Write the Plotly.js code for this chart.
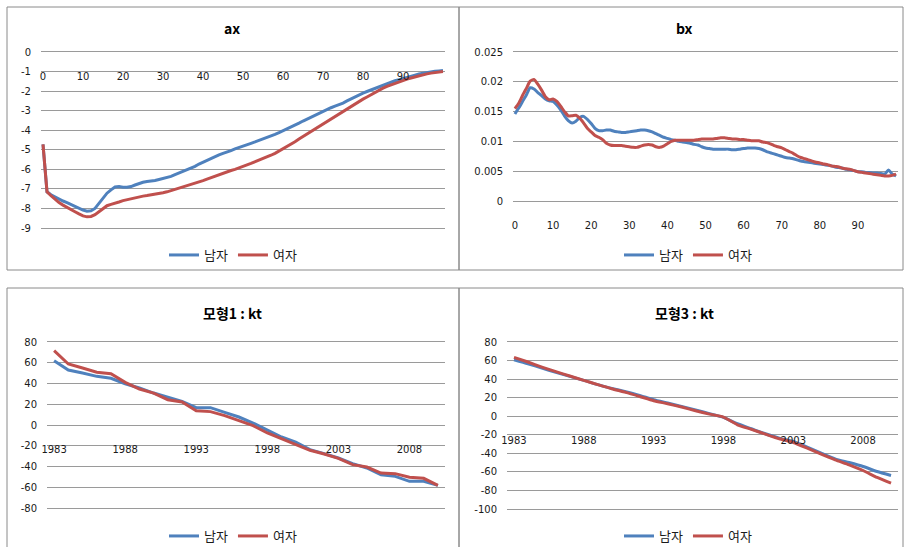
<!DOCTYPE html>
<html><head><meta charset="utf-8">
<script src="https://cdn.plot.ly/plotly-3.0.1.min.js"></script>
<style>html,body{margin:0;padding:0;background:#fff}#chart{width:905px;height:547px}</style>
</head><body><div id="chart"></div>
<script>
// ---------- DATA ----------
const seriesNames = ['남자', '여자'];
const titles = ['ax', 'bx', '모형1 : kt', '모형3 : kt'];

const ages = [0,1,2,3,4,5,6,7,8,9,10,11,12,13,14,15,16,17,18,19,20,21,22,23,24,25,26,27,28,29,30,31,32,33,34,35,36,37,38,39,40,41,42,43,44,45,46,47,48,49,50,51,52,53,54,55,56,57,58,59,60,61,62,63,64,65,66,67,68,69,70,71,72,73,74,75,76,77,78,79,80,81,82,83,84,85,86,87,88,89,90,91,92,93,94,95,96,97,98,99,100];
const ageTicks = [0,10,20,30,40,50,60,70,80,90];

const axMale = [-4.72,-7.15,-7.30,-7.42,-7.53,-7.62,-7.70,-7.80,-7.91,-8.00,-8.08,-8.14,-8.12,-8.00,-7.75,-7.45,-7.22,-7.05,-6.90,-6.88,-6.92,-6.92,-6.88,-6.80,-6.72,-6.66,-6.62,-6.60,-6.57,-6.52,-6.47,-6.42,-6.36,-6.27,-6.19,-6.11,-6.03,-5.95,-5.85,-5.73,-5.63,-5.53,-5.44,-5.35,-5.26,-5.18,-5.12,-5.04,-4.95,-4.87,-4.80,-4.74,-4.67,-4.60,-4.53,-4.45,-4.38,-4.30,-4.21,-4.12,-4.03,-3.95,-3.85,-3.75,-3.64,-3.53,-3.43,-3.33,-3.22,-3.11,-3.01,-2.93,-2.85,-2.77,-2.70,-2.61,-2.50,-2.39,-2.29,-2.19,-2.10,-2.02,-1.94,-1.86,-1.77,-1.68,-1.61,-1.54,-1.47,-1.42,-1.37,-1.31,-1.25,-1.18,-1.12,-1.08,-1.04,-1.01,-0.99,-0.97,-0.95];
const axFemale = [-4.72,-7.15,-7.35,-7.54,-7.70,-7.83,-7.93,-8.03,-8.17,-8.28,-8.38,-8.43,-8.41,-8.32,-8.17,-8.00,-7.86,-7.79,-7.74,-7.67,-7.60,-7.55,-7.49,-7.44,-7.40,-7.37,-7.34,-7.31,-7.28,-7.24,-7.20,-7.15,-7.09,-7.03,-6.97,-6.90,-6.84,-6.78,-6.72,-6.65,-6.58,-6.50,-6.42,-6.34,-6.27,-6.20,-6.13,-6.06,-6.00,-5.91,-5.83,-5.77,-5.70,-5.62,-5.55,-5.47,-5.38,-5.28,-5.18,-5.07,-4.96,-4.84,-4.72,-4.59,-4.45,-4.32,-4.19,-4.06,-3.94,-3.81,-3.69,-3.56,-3.43,-3.30,-3.17,-3.04,-2.91,-2.78,-2.65,-2.53,-2.41,-2.30,-2.18,-2.06,-1.95,-1.85,-1.76,-1.68,-1.59,-1.52,-1.45,-1.39,-1.33,-1.27,-1.21,-1.16,-1.12,-1.08,-1.05,-1.03,-1.00];

const bxMale = [0.0146,0.0156,0.0167,0.0178,0.0190,0.0188,0.0182,0.0177,0.0171,0.0168,0.0167,0.0161,0.0153,0.0143,0.0135,0.0131,0.0134,0.0140,0.0142,0.0137,0.0130,0.0122,0.0118,0.0118,0.0119,0.0119,0.0117,0.0116,0.0115,0.0115,0.0116,0.0117,0.0118,0.0119,0.0119,0.0118,0.0116,0.0113,0.0110,0.0107,0.0105,0.0103,0.0102,0.0100,0.0099,0.0098,0.0097,0.0095,0.0094,0.0091,0.0089,0.0088,0.0087,0.0087,0.0087,0.0087,0.0087,0.0086,0.0086,0.0087,0.0088,0.0089,0.0089,0.0089,0.0088,0.0086,0.0083,0.0081,0.0079,0.0077,0.0075,0.0073,0.0072,0.0071,0.0069,0.0067,0.0066,0.0065,0.0064,0.0063,0.0062,0.0061,0.0060,0.0059,0.0057,0.0056,0.0055,0.0053,0.0052,0.0051,0.0049,0.0049,0.0048,0.0048,0.0047,0.0047,0.0046,0.0045,0.0052,0.0045,0.0042];
const bxFemale = [0.0155,0.0164,0.0177,0.0189,0.0201,0.0204,0.0196,0.0186,0.0175,0.0170,0.0171,0.0167,0.0159,0.0150,0.0143,0.0143,0.0144,0.0139,0.0131,0.0122,0.0116,0.0110,0.0107,0.0103,0.0097,0.0094,0.0093,0.0093,0.0093,0.0092,0.0091,0.0090,0.0090,0.0092,0.0094,0.0095,0.0094,0.0091,0.0090,0.0092,0.0096,0.0100,0.0102,0.0102,0.0102,0.0102,0.0102,0.0102,0.0103,0.0104,0.0104,0.0104,0.0104,0.0105,0.0106,0.0106,0.0105,0.0104,0.0104,0.0103,0.0103,0.0102,0.0101,0.0101,0.0101,0.0099,0.0098,0.0096,0.0093,0.0091,0.0089,0.0086,0.0083,0.0080,0.0076,0.0073,0.0071,0.0069,0.0067,0.0065,0.0064,0.0062,0.0061,0.0059,0.0058,0.0057,0.0055,0.0054,0.0053,0.0051,0.0049,0.0048,0.0047,0.0046,0.0045,0.0044,0.0043,0.0042,0.0042,0.0043,0.0045];

const years = [1983,1984,1985,1986,1987,1988,1989,1990,1991,1992,1993,1994,1995,1996,1997,1998,1999,2000,2001,2002,2003,2004,2005,2006,2007,2008,2009,2010];
const yearTicks = [1983,1988,1993,1998,2003,2008];

const kt1Male = [62.0,53.0,50.1,46.9,45.0,39.8,35.7,30.8,26.7,22.8,16.7,16.7,12.2,7.7,1.9,-4.5,-11.6,-16.4,-23.8,-27.6,-31.8,-37.3,-41.4,-47.9,-49.5,-54.3,-54.3,-58.2];
const kt1Female = [71.6,58.8,54.9,50.8,49.5,41.1,34.7,30.8,24.4,22.2,13.8,12.9,9.0,4.5,-0.6,-7.7,-13.2,-18.3,-24.4,-28.0,-32.1,-38.2,-40.5,-46.3,-46.9,-50.4,-51.4,-58.2];

const kt3Male = [60.9,56.6,51.9,47.3,42.9,38.6,34.0,30.0,26.4,22.4,17.8,14.2,10.6,6.8,2.8,-1.3,-8.1,-13.5,-18.9,-23.6,-27.2,-33.3,-39.8,-45.9,-49.9,-54.2,-59.6,-63.9];
const kt3Female = [63.5,58.4,53.0,48.0,43.3,38.6,34.0,29.6,25.7,21.3,16.7,13.5,9.9,5.9,2.3,-0.9,-9.2,-14.2,-19.3,-24.3,-28.3,-34.4,-40.9,-47.0,-52.4,-58.5,-66.0,-72.2];

const axYTicks = [0,-1,-2,-3,-4,-5,-6,-7,-8,-9];
const bxYTicks = [0,0.005,0.01,0.015,0.02,0.025];
const kt1YTicks = [80,60,40,20,0,-20,-40,-60,-80];
const kt3YTicks = [80,60,40,20,0,-20,-40,-60,-80,-100];

// ---------- LAYOUT ----------
const W = 905, H = 547;
const fx = p => p / W;
const fy = p => 1 - p / H;
const BLUE = '#4F81BD', RED = '#C0504D';
const GRID = '#9a9a9a';
const NUM_FONT = {family: 'DejaVu Sans, Verdana, sans-serif', size: 10, color: '#1a1a1a'};
const KR = 'Noto Sans CJK KR, Noto Sans, sans-serif';

const panels = [
  {x: ages, m: axMale, f: axFemale, xt: ageTicks, xr: [-0.5, 100.5], yt: axYTicks, yr: [-9, 0], px: [41, 445], py: [52, 228], shape: 'linear', leg: [233, 255], title: [232, 28]},
  {x: ages, m: bxMale, f: bxFemale, xt: ageTicks, xr: [-0.5, 100.5], yt: bxYTicks, yr: [0, 0.025], px: [513, 898], py: [52, 201], shape: 'spline', leg: [688, 255], title: [684, 28]},
  {x: years, m: kt1Male, f: kt1Female, xt: yearTicks, xr: [1982.5, 2010.5], yt: kt1YTicks, yr: [-80, 80], px: [47, 445], py: [342, 508], shape: 'linear', leg: [233, 536], title: [232, 313]},
  {x: years, m: kt3Male, f: kt3Female, xt: yearTicks, xr: [1982.5, 2010.5], yt: kt3YTicks, yr: [-100, 80], px: [507, 898], py: [342, 509], shape: 'spline', leg: [688, 536], title: [684, 313]}
];

const data = [];
const layout = {
  width: W, height: H,
  margin: {l: 0, r: 0, t: 0, b: 0, autoexpand: false},
  paper_bgcolor: '#fff', plot_bgcolor: 'rgba(0,0,0,0)',
  showlegend: true,
  annotations: [],
  shapes: []
};

panels.forEach((p, i) => {
  const n = i + 1;
  const xa = n === 1 ? 'x' : 'x' + n;
  const ya = n === 1 ? 'y' : 'y' + n;
  const legName = n === 1 ? 'legend' : 'legend' + n;
  [[p.m, BLUE, seriesNames[0]], [p.f, RED, seriesNames[1]]].forEach(([ys, col, nm]) => {
    data.push({
      type: 'scatter', mode: 'lines', x: p.x, y: ys, name: nm,
      xaxis: xa, yaxis: ya, legend: legName,
      line: {color: col, width: 3, shape: p.shape, smoothing: 0.6},
      hoverinfo: 'skip'
    });
  });
  // pixel row of the value 0 inside this plot area
  const zeroPx = p.py[1] - (0 - p.yr[0]) / (p.yr[1] - p.yr[0]) * (p.py[1] - p.py[0]);
  // x axis sits on the bottom edge; its line + mirror give the outermost gridlines,
  // and its labels are pulled up to just under the zero line (Excel style)
  layout[n === 1 ? 'xaxis' : 'xaxis' + n] = {
    domain: [fx(p.px[0]), fx(p.px[1])],
    range: p.xr, anchor: ya, side: 'bottom',
    tickvals: p.xt, ticktext: p.xt.map(String),
    showgrid: false, zeroline: false, ticks: '',
    showline: true, mirror: true, linecolor: GRID, linewidth: 1,
    tickfont: NUM_FONT, ticklabelstandoff: Math.round(15 - (p.py[1] - zeroPx)),
    fixedrange: true
  };
  layout[n === 1 ? 'yaxis' : 'yaxis' + n] = {
    domain: [fy(p.py[1]), fy(p.py[0])], range: p.yr, anchor: xa,
    tickvals: p.yt, ticktext: p.yt.map(String),
    showgrid: true, gridcolor: GRID, gridwidth: 1,
    zeroline: false, showline: false, ticks: '',
    tickfont: NUM_FONT, ticklabelstandoff: 9, fixedrange: true
  };
  layout[legName] = {
    orientation: 'h', x: fx(p.leg[0]), y: fy(p.leg[1]),
    xanchor: 'center', yanchor: 'middle',
    font: {family: KR, size: 13, color: '#1a1a1a'},
    bgcolor: 'rgba(0,0,0,0)', borderwidth: 0, itemwidth: 30
  };
  layout.annotations.push({
    text: '<b>' + titles[i] + '</b>', xref: 'paper', yref: 'paper',
    x: fx(p.title[0]), y: fy(p.title[1]), xanchor: 'center', yanchor: 'middle',
    showarrow: false, font: {family: KR, size: 14, color: '#000'}
  });
});

// panel borders
[[7, 7, 459, 270], [459, 7, 903, 270], [7, 288, 459, 560], [459, 288, 903, 560]].forEach(b => {
  layout.shapes.push({type: 'rect', xref: 'paper', yref: 'paper',
    x0: fx(b[0]), x1: fx(b[2]), y0: fy(b[3]), y1: fy(b[1]),
    line: {color: '#8a8a8a', width: 1}, fillcolor: 'rgba(0,0,0,0)', layer: 'below'});
});

Plotly.newPlot('chart', data, layout, {displayModeBar: false, staticPlot: true});
</script>
</body></html>
